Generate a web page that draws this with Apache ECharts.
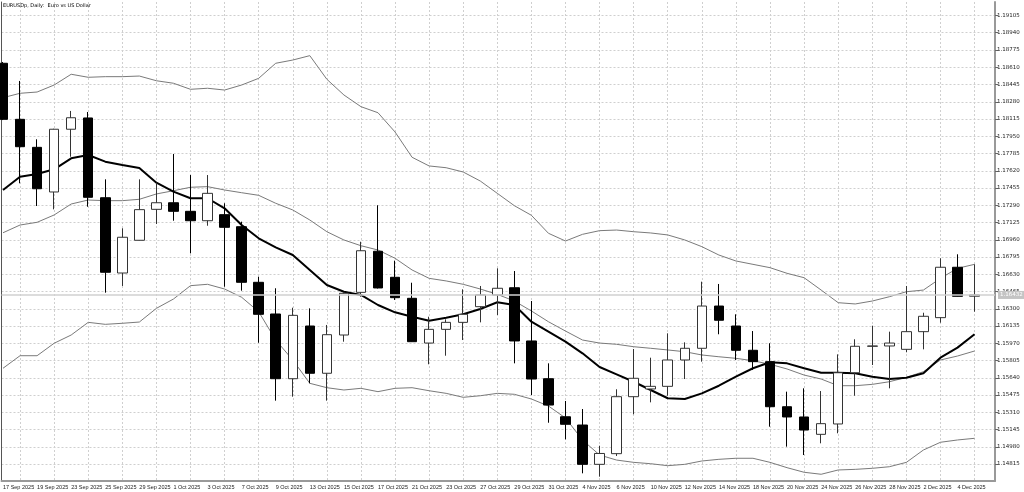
<!DOCTYPE html>
<html>
<head>
<meta charset="utf-8">
<script src="https://cdn.jsdelivr.net/npm/echarts@6/dist/echarts.min.js"></script>
<style>
html,body{margin:0;padding:0;background:#fff;}
#chart{width:1024px;height:492px;}
</style>
</head>
<body>
<div id="chart"></div>
<script>
var dates = [
 '17 Sep 2025','18 Sep 2025','19 Sep 2025','22 Sep 2025','23 Sep 2025','24 Sep 2025','25 Sep 2025','26 Sep 2025','29 Sep 2025','30 Sep 2025',
 '1 Oct 2025','2 Oct 2025','3 Oct 2025','6 Oct 2025','7 Oct 2025','8 Oct 2025','9 Oct 2025','10 Oct 2025','13 Oct 2025','14 Oct 2025',
 '15 Oct 2025','16 Oct 2025','17 Oct 2025','20 Oct 2025','21 Oct 2025','22 Oct 2025','23 Oct 2025','24 Oct 2025','27 Oct 2025','28 Oct 2025',
 '29 Oct 2025','30 Oct 2025','31 Oct 2025','3 Nov 2025','4 Nov 2025','5 Nov 2025','6 Nov 2025','7 Nov 2025','10 Nov 2025','11 Nov 2025',
 '12 Nov 2025','13 Nov 2025','14 Nov 2025','17 Nov 2025','18 Nov 2025','19 Nov 2025','20 Nov 2025','21 Nov 2025','24 Nov 2025','25 Nov 2025',
 '26 Nov 2025','27 Nov 2025','28 Nov 2025','1 Dec 2025','2 Dec 2025','3 Dec 2025','4 Dec 2025','5 Dec 2025'
];
var openP = [
 1.18648,1.18112,1.17844,1.17417,1.18017,1.18125,1.17362,1.16642,1.16955,1.17251,
 1.17314,1.17232,1.17142,1.17200,1.17085,1.16553,1.16250,1.15631,1.16135,1.15683,
 1.16049,1.16457,1.16850,1.16601,1.16400,1.15972,1.16103,1.16170,1.16320,1.16432,
 1.16501,1.15992,1.15631,1.15267,1.15188,1.14812,1.14914,1.15459,1.15533,1.15558,
 1.15810,1.15922,1.16326,1.16135,1.15903,1.15794,1.15363,1.15265,1.15099,1.15198,
 1.15688,1.15941,1.15944,1.15912,1.16081,1.16215,1.16697,1.16420
];
var closeP = [
 1.18112,1.17850,1.17448,1.18017,1.18127,1.17366,1.16649,1.16984,1.17248,1.17314,
 1.17232,1.17142,1.17404,1.17079,1.16553,1.16247,1.15631,1.16237,1.15683,1.16052,
 1.16448,1.16855,1.16499,1.16406,1.15985,1.16103,1.16170,1.16247,1.16432,1.16496,
 1.15992,1.15628,1.15379,1.15195,1.14812,1.14916,1.15459,1.15635,1.15558,1.15810,
 1.15922,1.16326,1.16190,1.15903,1.15794,1.15363,1.15265,1.15140,1.15201,1.15688,
 1.15941,1.15944,1.15972,1.16081,1.16228,1.16697,1.16419,1.16432
];
var lowP = [
 1.18105,1.17500,1.17283,1.17251,1.17754,1.17276,1.16454,1.16518,1.16953,1.17111,
 1.17142,1.16830,1.17094,1.16511,1.16473,1.15975,1.15421,1.15459,1.15587,1.15421,
 1.15985,1.16415,1.16494,1.16384,1.15982,1.15769,1.15851,1.16001,1.16170,1.16240,
 1.15778,1.15475,1.15210,1.15051,1.14726,1.14694,1.14892,1.15291,1.15405,1.15468,
 1.15628,1.15794,1.16056,1.15810,1.15714,1.15172,1.14981,1.14901,1.15013,1.15109,
 1.15468,1.15762,1.15539,1.15884,1.15912,1.16167,1.16417,1.16272
];
var highP = [
 1.18660,1.18479,1.17921,1.18022,1.18192,1.18182,1.17538,1.17070,1.17538,1.17506,
 1.17780,1.17579,1.17579,1.17309,1.17133,1.16607,1.16496,1.16310,1.16304,1.16145,
 1.16457,1.16941,1.17290,1.16760,1.16549,1.16224,1.16199,1.16486,1.16518,1.16687,
 1.16661,1.16374,1.15778,1.15418,1.15341,1.14990,1.15530,1.15915,1.15832,1.16065,
 1.15979,1.16559,1.16537,1.16247,1.16087,1.15970,1.15507,1.15539,1.15513,1.15864,
 1.16008,1.16138,1.16081,1.16518,1.16262,1.16783,1.16821,1.16725
];
var bbUpper = [
 1.18319,1.18361,1.18373,1.18440,1.18543,1.18514,1.18520,1.18520,1.18526,1.18481,
 1.18457,1.18399,1.18409,1.18392,1.18440,1.18504,1.18648,1.18679,1.18721,1.18495,
 1.18345,1.18233,1.18175,1.17991,1.17749,1.17666,1.17649,1.17608,1.17522,1.17404,
 1.17286,1.17194,1.17022,1.16948,1.17012,1.17047,1.17053,1.17037,1.17025,1.17006,
 1.16958,1.16894,1.16814,1.16757,1.16725,1.16693,1.16639,1.16597,1.16479,1.16358,
 1.16346,1.16374,1.16415,1.16463,1.16479,1.16591,1.16687,1.16725
];
var bbMiddle = [
 1.17027,1.17101,1.17127,1.17197,1.17302,1.17340,1.17334,1.17334,1.17347,1.17398,
 1.17429,1.17462,1.17468,1.17436,1.17410,1.17385,1.17309,1.17245,1.17149,1.17037,
 1.16958,1.16903,1.16862,1.16783,1.16671,1.16591,1.16566,1.16534,1.16489,1.16438,
 1.16374,1.16279,1.16176,1.16087,1.16001,1.15972,1.15960,1.15937,1.15922,1.15906,
 1.15889,1.15858,1.15841,1.15826,1.15803,1.15769,1.15724,1.15666,1.15628,1.15564,
 1.15564,1.15577,1.15602,1.15644,1.15698,1.15810,1.15848,1.15896
];
var bbLower = [
 1.15731,1.15851,1.15851,1.15970,1.16049,1.16170,1.16151,1.16161,1.16173,1.16304,
 1.16393,1.16521,1.16534,1.16489,1.16410,1.16272,1.16001,1.15810,1.15587,1.15545,
 1.15523,1.15539,1.15507,1.15539,1.15545,1.15516,1.15491,1.15453,1.15468,1.15491,
 1.15482,1.15437,1.15370,1.15255,1.15045,1.14901,1.14853,1.14831,1.14818,1.14799,
 1.14812,1.14844,1.14860,1.14870,1.14870,1.14831,1.14780,1.14736,1.14717,1.14758,
 1.14764,1.14774,1.14789,1.14831,1.14949,1.15023,1.15045,1.15061
];
var maLine = [
 1.17436,1.17563,1.17589,1.17634,1.17739,1.17771,1.17707,1.17675,1.17646,1.17506,
 1.17420,1.17357,1.17357,1.17261,1.17101,1.16974,1.16888,1.16814,1.16671,1.16527,
 1.16463,1.16432,1.16336,1.16266,1.16224,1.16186,1.16215,1.16247,1.16298,1.16362,
 1.16336,1.16176,1.16081,1.15985,1.15874,1.15743,1.15673,1.15602,1.15523,1.15444,
 1.15437,1.15491,1.15564,1.15650,1.15731,1.15788,1.15778,1.15731,1.15688,1.15688,
 1.15683,1.15650,1.15628,1.15641,1.15683,1.15832,1.15928,1.16056
];
var yTickLabels = [
 '1.14815','1.14980','1.15145','1.15310','1.15475','1.15640','1.15805','1.15970','1.16135',
 '1.16300','1.16465','1.16630','1.16795','1.16960','1.17125','1.17290','1.17455','1.17620',
 '1.17785','1.17950','1.18115','1.18280','1.18445','1.18610','1.18775','1.18940','1.19105'
];
var bidPrice = 1.16432;
var chartTitle = 'EURUSDp, Daily:  Euro vs US Dollar';

var yTicks = yTickLabels.map(function (s) { return parseFloat(s); });
var candleData = dates.map(function (d, i) { return [i, openP[i], closeP[i], lowP[i], highP[i]]; });
function pair(arr) { return arr.map(function (v, i) { return [i, v]; }); }
var labelIdx = [], gridIdx = [];
dates.forEach(function (d, i) { if (i % 2 === 0) labelIdx.push(i); else gridIdx.push(i); });

var FONT = 'DejaVu Sans';
var FONT_X = 'Liberation Sans';
var chart = echarts.init(document.getElementById('chart'), null, { renderer: 'canvas' });
chart.setOption({
  animation: false,
  backgroundColor: '#ffffff',
  title: {
    text: chartTitle, left: 3, top: 3, padding: 0,
    textStyle: { fontSize: 5, fontWeight: 'normal', color: '#000', fontFamily: FONT }
  },
  grid: { left: 0, right: 29, top: 2, bottom: 11 },
  xAxis: {
    type: 'value', min: -0.088, max: 58.2,
    axisLine: { show: true, lineStyle: { color: '#999', width: 2 } },
    axisTick: { show: false, customValues: gridIdx },
    axisLabel: {
      customValues: labelIdx, align: 'left', margin: 3, showMinLabel: true, showMaxLabel: true,
      hideOverlap: false,
      fontSize: 5.5, color: '#222', fontFamily: FONT_X,
      formatter: function (v) { return dates[Math.round(v)] || ''; }
    },
    splitLine: { show: true, lineStyle: { color: '#cfcfcf', type: [2, 2], width: 1 } }
  },
  yAxis: [{
    type: 'value', position: 'right', min: 1.146526, max: 1.192341,
    axisLine: { show: true, onZero: false, lineStyle: { color: '#999', width: 2 } },
    axisTick: { show: true, length: 3, customValues: yTicks, lineStyle: { color: '#666' } },
    axisLabel: {
      customValues: yTicks, margin: 2, fontSize: 5.5, color: '#222', fontFamily: FONT,
      formatter: function (v) { return v.toFixed(5); }
    },
    splitLine: { show: true, lineStyle: { color: '#cfcfcf', type: [2, 2], width: 1 } }
  }, {
    type: 'value', position: 'left', min: 1.146526, max: 1.192341,
    axisLine: { show: true, onZero: false, lineStyle: { color: '#555', width: 1 } },
    axisTick: { show: false }, axisLabel: { show: false }, splitLine: { show: false }
  }],
  series: [
    {
      type: 'line', data: pair(bbUpper), symbol: 'none', silent: true,
      lineStyle: { color: '#7a7a7a', width: 1 }, z: 2
    },
    {
      type: 'line', data: pair(bbMiddle), symbol: 'none', silent: true,
      lineStyle: { color: '#7a7a7a', width: 1 }, z: 2
    },
    {
      type: 'line', data: pair(bbLower), symbol: 'none', silent: true,
      lineStyle: { color: '#7a7a7a', width: 1 }, z: 2
    },
    {
      type: 'line', data: pair(maLine), symbol: 'none', silent: true,
      lineStyle: { color: '#000', width: 2 }, z: 3,
      markLine: {
        silent: true, symbol: 'none', animation: false, precision: 5,
        lineStyle: { color: '#d0d0d0', type: 'solid', width: 1.5 },
        label: {
          show: true, position: 'end', distance: 3,
          formatter: bidPrice.toFixed(5),
          backgroundColor: '#c4c4c4', color: '#ffffff', fontSize: 5.5, fontFamily: FONT,
          padding: [1, 2, 1, 2]
        },
        data: [{ yAxis: bidPrice }]
      }
    },
    {
      type: 'candlestick', data: candleData, barWidth: 10, z: 4,
      itemStyle: {
        color: '#ffffff', color0: '#000000',
        borderColor: '#333333', borderColor0: '#000000', borderColorDoji: '#333333',
        borderWidth: 1
      }
    }
  ]
});
</script>
</body>
</html>
